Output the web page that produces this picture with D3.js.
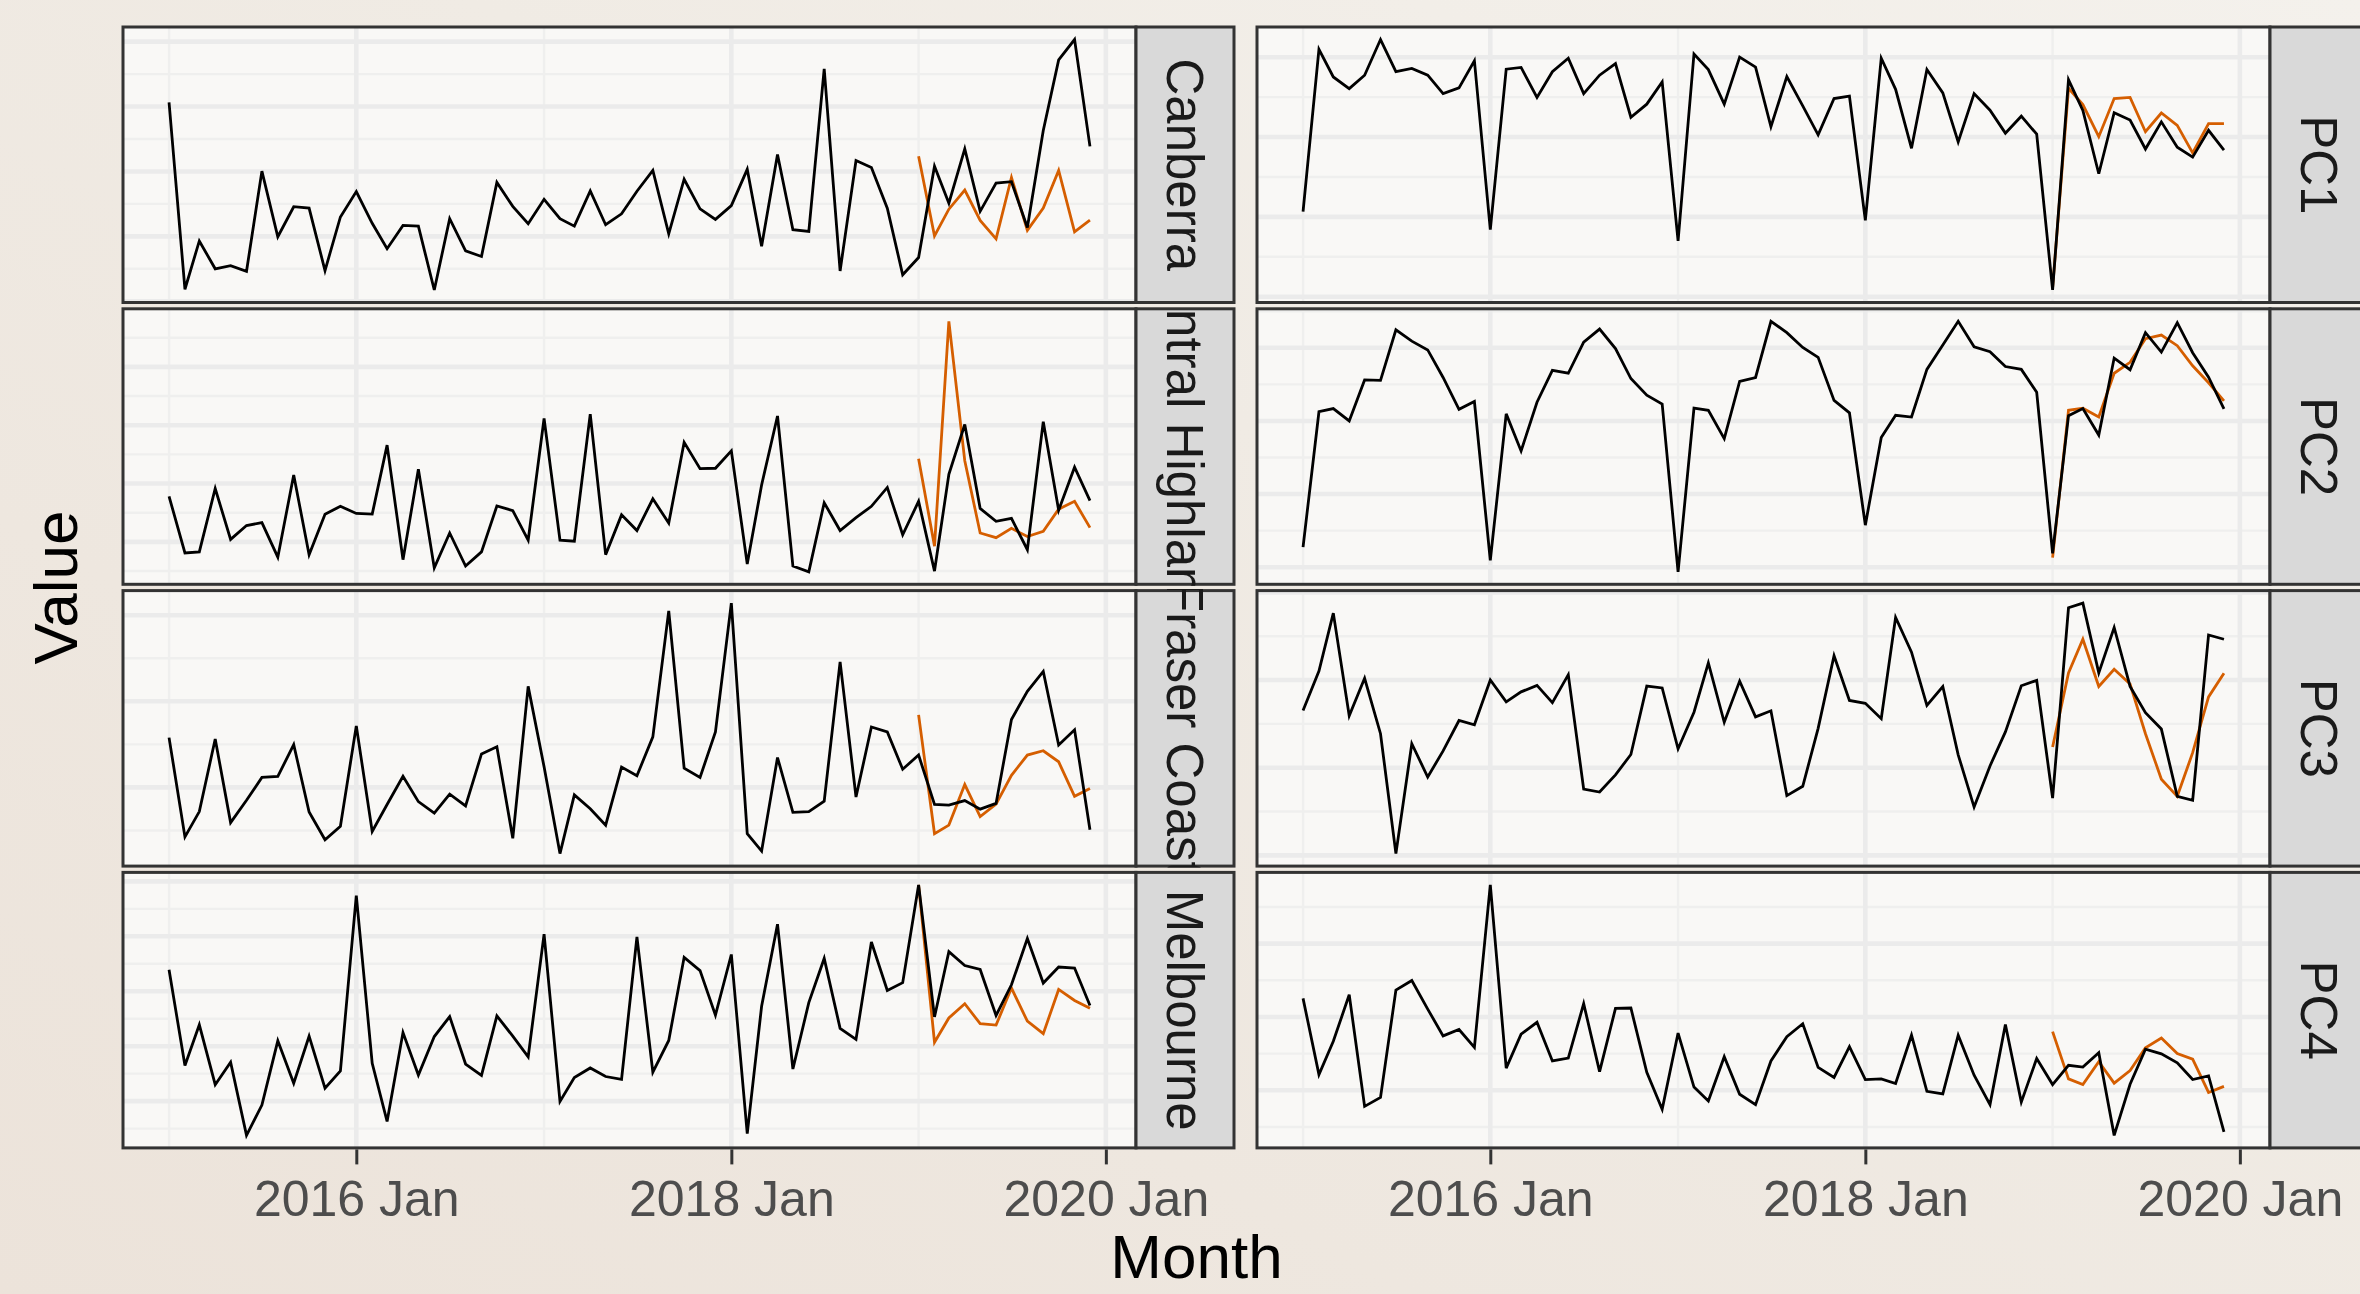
<!DOCTYPE html>
<html><head><meta charset="utf-8">
<script src="https://cdn.jsdelivr.net/npm/d3@7"></script>
<style>html,body{margin:0;padding:0;background:#efe9e2;} svg{display:block;}</style>
</head><body>
<svg id="chart" width="2360" height="1294"></svg>
<script>
// ---------------- DATA ----------------
// Months 2015 Jan .. 2019 Dec (60), forecasts for 2019 Jan .. 2019 Dec (12)
const firstMonth = "2015-01", lastMonth = "2019-12", forecastStart = "2019-01";
const xTickDates = ["2016-01", "2018-01", "2020-01"];
const xTickLabels = ["2016 Jan", "2018 Jan", "2020 Jan"];
const minorXDates = ["2015-01", "2017-01", "2019-01"];

const regionNames = ["Canberra", "Central Highlands", "Fraser Coast", "Melbourne"];
const pcNames = ["PC1", "PC2", "PC3", "PC4"];

const canberra = [564,34,171,92,101,85,369,183,268,264,87,239,311,221,149,215,213,32,234,143,127,337,269,220,289,234,213,313,217,248,312,371,191,346,262,232,271,374,156,416,203,198,659,86,399,379,264,75,124,383,278,432,255,335,339,209,484,684,742,439];
const canberraFc = [411,185,261,315,229,177,351,201,264,371,197,230];
const centralHighlands = [292,133,136,314,171,210,218,121,352,128,242,264,244,242,436,114,368,91,189,96,136,265,252,169,511,169,166,523,128,240,196,285,217,444,370,371,420,102,324,518,96,80,274,196,232,264,317,184,278,82,354,494,258,222,230,142,502,253,374,280];
const centralHighlandsFc = [398,152,784,392,189,176,202,179,194,256,278,204];
const fraserCoast = [382,103,174,378,143,206,270,273,362,173,95,133,415,118,194,273,202,170,223,190,336,356,99,526,300,56,221,182,136,299,275,384,738,296,270,398,760,112,63,326,172,174,203,595,215,412,398,293,333,194,192,205,181,197,433,512,568,361,404,123];
const fraserCoastFc = [446,112,136,250,160,195,276,333,345,314,217,239];
const melbourne = [522,254,368,200,263,58,143,323,204,336,190,239,730,260,97,346,227,335,391,258,226,393,336,278,622,153,220,247,223,215,614,235,324,557,520,395,565,63,420,650,244,430,554,358,327,600,464,486,760,390,573,534,523,394,480,610,485,530,527,422];
const melbourneFc = [760,319,387,427,371,367,471,378,343,467,436,414];

const pc1 = [467,926,848,815,853,954,863,872,853,801,817,894,416,870,875,790,863,901,801,853,886,734,771,834,384,913,869,771,904,876,707,849,766,684,787,794,442,901,813,646,869,803,664,801,754,689,737,686,245,840,753,574,747,726,644,721,649,621,697,641];
const pc1Fc = [251,816,770,679,787,790,693,746,711,633,716,716];
const pc2 = [264,647,656,621,737,736,879,847,822,744,654,676,226,641,536,674,764,756,844,881,826,741,694,669,194,657,651,571,733,744,903,871,829,801,679,644,326,574,637,632,767,836,903,831,817,775,767,702,246,636,656,581,799,766,871,816,899,814,745,655];
const pc2Fc = [234,651,657,632,756,787,854,864,834,777,729,678];
const pc3 = [650,760,922,635,740,585,250,557,464,537,622,610,735,674,702,720,672,750,430,422,470,527,718,713,543,645,783,617,732,632,649,412,438,600,803,678,670,627,910,813,664,717,526,380,495,590,719,734,405,937,950,755,882,717,644,598,410,399,861,849];
const pc3Fc = [548,755,849,717,765,724,585,458,410,532,688,754];
const pc4 = [462,249,342,472,160,185,485,512,432,357,375,325,779,267,362,395,287,295,447,257,434,435,255,152,365,214,175,299,194,165,287,355,391,269,241,327,235,237,224,359,202,195,359,247,165,389,172,294,221,275,270,310,79,222,320,307,282,235,245,89];
const pc4Fc = [369,237,221,285,225,260,324,351,308,292,199,216];

// major y-grid spacing per panel (same units as values)
const regionGridStep = [184, 164, 242, 154];
const pcGridStep = [226, 207, 245, 205];

// ---------------- BUILD ----------------
const regionActual = [canberra, centralHighlands, fraserCoast, melbourne];
const regionFc = [canberraFc, centralHighlandsFc, fraserCoastFc, melbourneFc];
const pcActual = [pc1, pc2, pc3, pc4];
const pcFc = [pc1Fc, pc2Fc, pc3Fc, pc4Fc];

const parseM = d3.utcParse("%Y-%m");
const months = d3.utcMonths(parseM(firstMonth), d3.utcMonth.offset(parseM(lastMonth), 1));
const fcStartIdx = months.findIndex(m => +m === +parseM(forecastStart));

const columns = [
  {x0: 123, names: regionNames, actual: regionActual, fc: regionFc, steps: regionGridStep},
  {x0: 1257, names: pcNames, actual: pcActual, fc: pcFc, steps: pcGridStep}
];

const W = 2360, H = 1294;
const panelW = 1013, panelH = 275.5, rowGap = 6.3, top0 = 27, stripW = 98;
const rowTops = d3.range(4).map(i => top0 + i * (panelH + rowGap));
const bottomY = rowTops[3] + panelH;

const svg = d3.select("#chart");
const defs = svg.append("defs");
const grad = defs.append("linearGradient").attr("id", "bg")
  .attr("x1", "0").attr("y1", "1").attr("x2", "1").attr("y2", "0");
grad.append("stop").attr("offset", "0").attr("stop-color", "#ece3da");
grad.append("stop").attr("offset", "0.6").attr("stop-color", "#f0ebe4");
grad.append("stop").attr("offset", "1").attr("stop-color", "#f4f1ec");
svg.append("rect").attr("width", W).attr("height", H).attr("fill", "url(#bg)");

const FONT = "'Liberation Sans', Arial, Helvetica, sans-serif";
const t0 = months[0], t1 = months[months.length - 1];
const span = t1 - t0;

columns.forEach((col, ci) => {
  const x = d3.scaleUtc()
    .domain([new Date(+t0 - 0.05 * span), new Date(+t1 + 0.05 * span)])
    .range([col.x0, col.x0 + panelW]);

  col.names.forEach((name, ri) => {
    const yTop = rowTops[ri];
    const act = col.actual[ri], fc = col.fc[ri];
    const all = act.concat(fc);
    const [mn, mx] = d3.extent(all);
    const pad = (mx - mn) * 0.05;
    const y = d3.scaleLinear().domain([mn - pad, mx + pad]).range([yTop + panelH, yTop]);
    const step = col.steps[ri];
    const dom = y.domain();
    const majors = d3.range(Math.ceil(dom[0] / step) * step, dom[1] + 1e-9, step);
    const minors = d3.range(Math.floor(dom[0] / step) * step + step / 2, dom[1], step).filter(v => v >= dom[0]);

    const cid = `clip-${ci}-${ri}`;
    defs.append("clipPath").attr("id", cid).append("rect")
      .attr("x", col.x0).attr("y", yTop).attr("width", panelW).attr("height", panelH);

    const g = svg.append("g");
    g.append("rect").attr("x", col.x0).attr("y", yTop).attr("width", panelW).attr("height", panelH)
      .attr("fill", "#f9f8f6");
    const gg = g.append("g").attr("clip-path", `url(#${cid})`);
    // minor grid
    gg.selectAll(".ymin").data(minors).join("line")
      .attr("x1", col.x0).attr("x2", col.x0 + panelW)
      .attr("y1", d => y(d)).attr("y2", d => y(d))
      .attr("stroke", "#efefee").attr("stroke-width", 2.4);
    gg.selectAll(".xmin").data(minorXDates.map(parseM)).join("line")
      .attr("x1", d => x(d)).attr("x2", d => x(d))
      .attr("y1", yTop).attr("y2", yTop + panelH)
      .attr("stroke", "#efefee").attr("stroke-width", 2.4);
    // major grid
    gg.selectAll(".ymaj").data(majors).join("line")
      .attr("x1", col.x0).attr("x2", col.x0 + panelW)
      .attr("y1", d => y(d)).attr("y2", d => y(d))
      .attr("stroke", "#ebebeb").attr("stroke-width", 4.6);
    gg.selectAll(".xmaj").data(xTickDates.map(parseM)).join("line")
      .attr("x1", d => x(d)).attr("x2", d => x(d))
      .attr("y1", yTop).attr("y2", yTop + panelH)
      .attr("stroke", "#ebebeb").attr("stroke-width", 4.6);

    const line = d3.line().x(d => x(d.m)).y(d => y(d.v));
    const fcData = fc.map((v, i) => ({m: months[fcStartIdx + i], v}));
    const actData = act.map((v, i) => ({m: months[i], v}));
    gg.append("path").datum(fcData).attr("d", line)
      .attr("fill", "none").attr("stroke", "#d55e00").attr("stroke-width", 2.8)
      .attr("stroke-linejoin", "miter");
    gg.append("path").datum(actData).attr("d", line)
      .attr("fill", "none").attr("stroke", "#000").attr("stroke-width", 2.8)
      .attr("stroke-linejoin", "miter");

    g.append("rect").attr("x", col.x0).attr("y", yTop).attr("width", panelW).attr("height", panelH)
      .attr("fill", "none").attr("stroke", "#333333").attr("stroke-width", 3);

    // strip
    const sx = col.x0 + panelW;
    const sid = `sclip-${ci}-${ri}`;
    defs.append("clipPath").attr("id", sid).append("rect")
      .attr("x", sx).attr("y", yTop - 1.5).attr("width", stripW + 2).attr("height", panelH + 3);
    const sg = svg.append("g");
    sg.append("rect").attr("x", sx).attr("y", yTop).attr("width", stripW).attr("height", panelH)
      .attr("fill", "#d9d9d9").attr("stroke", "#333333").attr("stroke-width", 3);
    sg.append("g").attr("clip-path", `url(#${sid})`)
      .append("text")
      .attr("transform", `translate(${sx + stripW / 2},${yTop + panelH / 2}) rotate(90)`)
      .attr("text-anchor", "middle").attr("dy", "0.35em")
      .attr("font-family", FONT).attr("font-size", 51).attr("fill", "#1a1a1a")
      .text(name);
  });

  // x axis at bottom of column
  const axis = d3.axisBottom(x)
    .tickValues(xTickDates.map(parseM))
    .tickFormat((d, i) => xTickLabels[i])
    .tickSize(15).tickSizeOuter(0);
  const ag = svg.append("g").attr("transform", `translate(0,${bottomY + 1.5})`).call(axis);
  ag.select(".domain").remove();
  ag.selectAll(".tick line").attr("stroke", "#333333").attr("stroke-width", 3);
  ag.selectAll(".tick text").attr("y", 67).attr("dy", null)
    .attr("font-family", FONT).attr("font-size", 50).attr("fill", "#4d4d4d");
});

// axis titles
svg.append("text").attr("x", (123 + 1257 + panelW) / 2).attr("y", 1278)
  .attr("text-anchor", "middle").attr("font-family", FONT).attr("font-size", 62)
  .attr("fill", "#000").text("Month");
svg.append("text")
  .attr("transform", `translate(77,${(top0 + bottomY) / 2}) rotate(-90)`)
  .attr("text-anchor", "middle").attr("font-family", FONT).attr("font-size", 62)
  .attr("fill", "#000").text("Value");
</script>
</body></html>
